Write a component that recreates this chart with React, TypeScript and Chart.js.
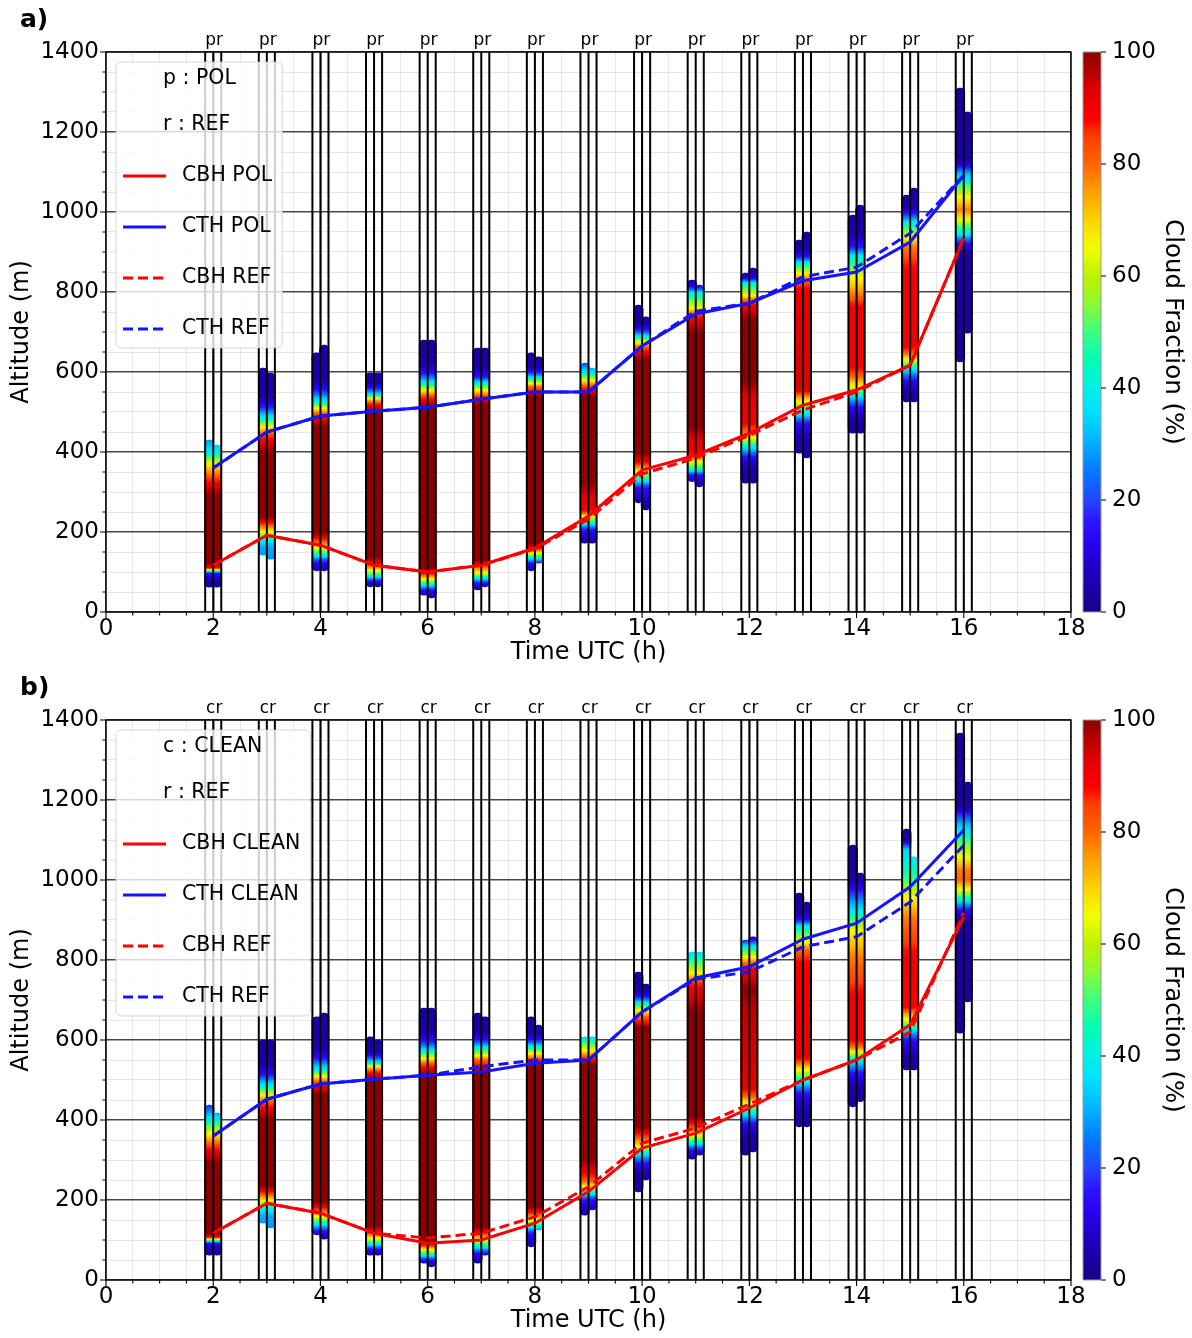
import React, { useEffect, useRef } from 'react';
import { Chart, registerables } from 'chart.js';

Chart.register(...registerables);

// ---- shared axes -------------------------------------------------------
const HOURS = [2, 3, 4, 5, 6, 7, 8, 9, 10, 11, 12, 13, 14, 15, 16];
const X_MIN = 0;
const X_MAX = 18;
const Y_MIN = 0;
const Y_MAX = 1400;
const CF_TICKS = [0, 20, 40, 60, 80, 100];

// ---- panel a : POL vs REF ---------------------------------------------
const A_CBH_POL = [117, 192, 167, 117, 100, 117, 160, 240, 355, 392, 447, 517, 555, 617, 935];
const A_CTH_POL = [360, 450, 490, 502, 512, 532, 550, 550, 665, 745, 772, 828, 850, 925, 1092];
const A_CBH_REF = [117, 192, 167, 117, 100, 117, 158, 232, 345, 385, 442, 505, 550, 617, 935];
const A_CTH_REF = [360, 450, 490, 502, 512, 532, 550, 550, 665, 752, 772, 838, 862, 947, 1092];

const A_P_BASE = [62, 142, 103, 63, 42, 55, 103, 172, 273, 326, 322, 397, 447, 525, 625];
const A_P_TOP = [430, 610, 648, 598, 680, 660, 648, 622, 767, 830, 847, 930, 992, 1042, 1310];
const A_R_BASE = [62, 132, 103, 63, 35, 63, 122, 172, 255, 313, 322, 385, 447, 525, 697];
const A_R_TOP = [417, 597, 667, 598, 680, 660, 638, 610, 738, 817, 860, 950, 1017, 1060, 1250];

// cloud fraction (%) profiles: [altitude m, fraction %], bottom to top
const A_CF_PROFILES: [number, number][][] = [
  [[62, 3], [75, 5], [97, 15], [110, 90], [122, 100], [290, 100], [322, 90], [347, 78], [372, 65], [397, 40], [430, 28]],
  [[132, 28], [163, 30], [180, 40], [200, 65], [213, 78], [225, 90], [238, 100], [397, 100], [430, 90], [447, 80], [463, 65], [480, 45], [497, 30], [513, 15], [538, 5], [610, 3]],
  [[103, 4], [125, 15], [142, 40], [160, 65], [172, 78], [185, 90], [198, 100], [463, 100], [485, 90], [497, 80], [510, 65], [525, 40], [538, 30], [555, 15], [580, 5], [667, 3]],
  [[63, 4], [77, 15], [90, 40], [103, 65], [113, 78], [122, 90], [138, 100], [500, 100], [517, 90], [525, 80], [535, 65], [542, 40], [560, 15], [572, 5], [598, 3]],
  [[35, 4], [55, 15], [68, 40], [82, 65], [97, 90], [110, 100], [513, 100], [530, 90], [542, 80], [555, 65], [572, 40], [597, 15], [622, 5], [680, 3]],
  [[55, 4], [72, 15], [85, 40], [97, 65], [110, 78], [118, 90], [130, 100], [517, 100], [535, 90], [542, 80], [555, 65], [572, 40], [588, 15], [613, 5], [660, 3]],
  [[103, 4], [122, 15], [135, 40], [147, 65], [160, 90], [172, 100], [538, 100], [550, 90], [563, 80], [572, 65], [585, 40], [600, 15], [613, 5], [648, 3]],
  [[172, 4], [205, 15], [222, 40], [238, 65], [247, 80], [255, 90], [288, 92], [322, 100], [538, 100], [555, 90], [567, 80], [580, 65], [597, 40], [622, 20]],
  [[255, 4], [273, 5], [310, 15], [330, 40], [350, 65], [363, 78], [375, 90], [397, 100], [630, 100], [650, 90], [663, 80], [675, 65], [688, 40], [705, 15], [722, 5], [767, 3]],
  [[313, 4], [342, 15], [355, 40], [375, 65], [385, 78], [397, 90], [422, 90], [463, 100], [697, 100], [735, 90], [747, 80], [760, 65], [797, 40], [812, 15], [830, 5]],
  [[322, 4], [360, 5], [388, 15], [413, 40], [435, 65], [450, 80], [472, 90], [538, 92], [580, 100], [730, 100], [767, 90], [780, 80], [792, 65], [822, 40], [835, 10], [860, 4]],
  [[385, 4], [430, 5], [472, 15], [497, 40], [525, 65], [542, 80], [555, 93], [797, 92], [830, 80], [847, 65], [872, 40], [888, 15], [905, 5], [950, 3]],
  [[447, 4], [480, 5], [513, 15], [542, 40], [563, 65], [588, 80], [613, 90], [763, 90], [788, 80], [838, 65], [888, 40], [913, 15], [947, 5], [1017, 3]],
  [[525, 4], [555, 5], [580, 15], [610, 40], [630, 65], [647, 80], [663, 90], [847, 90], [880, 85], [913, 78], [938, 65], [972, 40], [997, 15], [1013, 5], [1060, 3]],
  [[625, 3], [897, 5], [922, 15], [947, 40], [963, 50], [980, 65], [1005, 78], [1038, 65], [1063, 52], [1080, 40], [1097, 30], [1113, 15], [1130, 5], [1310, 3]],
];

// ---- panel b : CLEAN vs REF -------------------------------------------
const B_CBH_CLEAN = [117, 192, 167, 117, 92, 100, 142, 221, 330, 367, 430, 500, 550, 638, 908];
const B_CTH_CLEAN = [360, 452, 490, 502, 512, 520, 542, 550, 670, 755, 783, 852, 892, 983, 1125];
const B_CBH_REF = [117, 192, 167, 117, 105, 117, 158, 233, 342, 380, 440, 500, 550, 620, 918];
const B_CTH_REF = [360, 452, 490, 502, 512, 533, 550, 550, 670, 752, 770, 833, 858, 945, 1087];

const B_C_BASE = [62, 142, 113, 62, 42, 42, 83, 162, 220, 302, 312, 383, 433, 525, 617];
const B_C_TOP = [437, 600, 658, 608, 680, 667, 658, 608, 770, 820, 850, 967, 1087, 1127, 1367];
const B_R_BASE = [62, 130, 102, 62, 33, 62, 125, 175, 250, 312, 320, 383, 446, 525, 695];
const B_R_TOP = [417, 600, 667, 600, 680, 658, 637, 608, 740, 820, 858, 945, 1017, 1058, 1245];

const B_CF_PROFILES: [number, number][][] = [
  [[62, 3], [75, 5], [92, 15], [107, 90], [117, 100], [292, 100], [325, 90], [346, 78], [367, 65], [400, 40], [437, 18]],
  [[130, 28], [160, 30], [178, 40], [198, 65], [210, 78], [222, 90], [235, 100], [400, 100], [430, 90], [447, 80], [463, 65], [480, 45], [497, 30], [513, 15], [538, 5], [600, 3]],
  [[102, 4], [122, 15], [140, 40], [158, 65], [170, 78], [182, 90], [195, 100], [463, 100], [485, 90], [497, 80], [510, 65], [525, 40], [538, 30], [555, 15], [580, 5], [667, 3]],
  [[62, 4], [77, 15], [90, 40], [103, 65], [113, 78], [122, 90], [135, 100], [500, 100], [517, 90], [525, 80], [535, 65], [542, 40], [560, 15], [572, 5], [608, 3]],
  [[33, 4], [50, 15], [62, 40], [75, 65], [88, 90], [100, 100], [513, 100], [530, 90], [542, 80], [555, 65], [572, 40], [597, 15], [622, 5], [680, 3]],
  [[42, 4], [67, 15], [83, 40], [100, 65], [120, 90], [133, 100], [520, 100], [535, 90], [550, 80], [562, 65], [580, 40], [600, 15], [617, 5], [667, 3]],
  [[83, 4], [117, 15], [133, 40], [150, 65], [170, 90], [183, 100], [533, 100], [546, 90], [555, 80], [567, 65], [583, 40], [600, 15], [617, 5], [658, 3]],
  [[162, 4], [200, 15], [217, 40], [233, 65], [246, 80], [267, 90], [300, 100], [540, 100], [550, 90], [560, 80], [575, 65], [608, 35]],
  [[220, 4], [267, 5], [292, 15], [317, 40], [333, 65], [350, 78], [367, 90], [383, 100], [633, 100], [642, 90], [658, 80], [675, 65], [692, 40], [708, 15], [725, 5], [770, 3]],
  [[302, 4], [325, 15], [342, 40], [362, 65], [375, 78], [392, 90], [408, 100], [667, 100], [733, 90], [750, 80], [767, 65], [820, 35]],
  [[312, 4], [360, 5], [392, 15], [417, 40], [442, 65], [458, 80], [483, 92], [680, 96], [725, 100], [775, 90], [792, 80], [808, 65], [833, 40], [850, 15], [858, 10]],
  [[383, 4], [420, 5], [467, 15], [496, 40], [525, 65], [542, 80], [558, 92], [792, 90], [825, 80], [845, 65], [883, 40], [900, 15], [917, 5], [967, 3]],
  [[433, 4], [480, 5], [517, 15], [550, 40], [570, 65], [583, 80], [600, 90], [708, 90], [742, 85], [808, 78], [875, 65], [917, 40], [942, 30], [975, 15], [1000, 5], [1087, 3]],
  [[525, 4], [560, 5], [600, 15], [629, 40], [650, 65], [665, 75], [680, 88], [808, 90], [842, 85], [908, 78], [958, 65], [1000, 50], [1042, 40], [1075, 35], [1100, 5], [1127, 3]],
  [[617, 3], [900, 5], [925, 15], [950, 40], [975, 65], [1000, 80], [1025, 78], [1058, 65], [1092, 52], [1117, 40], [1142, 30], [1167, 15], [1183, 5], [1367, 3]],
];

// ---- styling -------------------------------------------------------------
const FONT = '"DejaVu Sans", Verdana, sans-serif';
const W = 1192;
const H = 669;
const COL_OFF = 0.07;            // offset of each column from the full hour
const MARK_OFF = [-0.15, 0, 0.15]; // black guide lines around each hour

// colour scale for cloud fraction: [value %, r, g, b]
const CMAP: [number, number, number, number][] = [
  [0, 22, 0, 135], [6, 28, 0, 180], [12, 40, 0, 240], [16, 42, 20, 255], [20, 35, 70, 255],
  [26, 0, 130, 255], [31, 0, 185, 255], [36, 0, 225, 255], [40, 0, 240, 230], [45, 0, 255, 180],
  [50, 60, 255, 130], [55, 140, 250, 50], [60, 190, 242, 0], [65, 240, 255, 0], [70, 255, 210, 0],
  [75, 255, 160, 0], [80, 255, 100, 0], [85, 255, 60, 0], [88, 255, 0, 0], [93, 225, 0, 0],
  [100, 140, 0, 0],
];

function cmap(v: number): string {
  const c = Math.max(0, Math.min(100, v));
  for (let i = 1; i < CMAP.length; i++) {
    const a = CMAP[i - 1];
    const b = CMAP[i];
    if (c <= b[0]) {
      const t = (c - a[0]) / (b[0] - a[0]);
      const r = Math.round(a[1] + (b[1] - a[1]) * t);
      const g = Math.round(a[2] + (b[2] - a[2]) * t);
      const bl = Math.round(a[3] + (b[3] - a[3]) * t);
      return `rgb(${r},${g},${bl})`;
    }
  }
  const l = CMAP[CMAP.length - 1];
  return `rgb(${l[1]},${l[2]},${l[3]})`;
}

interface PanelDef {
  tag: string;
  pairLabel: string;
  keyLines: string[];
  names: string[];
  series: number[][];
  leftBase: number[];
  leftTop: number[];
  rightBase: number[];
  rightTop: number[];
  profiles: [number, number][][];
  plotTop: number;
  plotBottom: number;
}

const PANEL_A: PanelDef = {
  tag: 'a)',
  pairLabel: 'pr',
  keyLines: ['p : POL', 'r : REF'],
  names: ['CBH POL', 'CTH POL', 'CBH REF', 'CTH REF'],
  series: [A_CBH_POL, A_CTH_POL, A_CBH_REF, A_CTH_REF],
  leftBase: A_P_BASE,
  leftTop: A_P_TOP,
  rightBase: A_R_BASE,
  rightTop: A_R_TOP,
  profiles: A_CF_PROFILES,
  plotTop: 52,
  plotBottom: 612,
};

const PANEL_B: PanelDef = {
  tag: 'b)',
  pairLabel: 'cr',
  keyLines: ['c : CLEAN', 'r : REF'],
  names: ['CBH CLEAN', 'CTH CLEAN', 'CBH REF', 'CTH REF'],
  series: [B_CBH_CLEAN, B_CTH_CLEAN, B_CBH_REF, B_CTH_REF],
  leftBase: B_C_BASE,
  leftTop: B_C_TOP,
  rightBase: B_R_BASE,
  rightTop: B_R_TOP,
  profiles: B_CF_PROFILES,
  plotTop: 51,
  plotBottom: 611,
};

const LINE_STYLES = [
  { color: '#ff0000', dash: [] as number[] },
  { color: '#1414ff', dash: [] as number[] },
  { color: '#ff0000', dash: [10, 5] },
  { color: '#1414ff', dash: [10, 5] },
];

function Panel({ def }: { def: PanelDef }) {
  const ref = useRef<HTMLCanvasElement>(null);

  useEffect(() => {
    const canvas = ref.current;
    if (!canvas) return;

    const gradCache = new Map<string, CanvasGradient>();
    const columnFill = (ctx: any) => {
      const chart = ctx.chart;
      if (!chart.chartArea) return 'rgba(0,0,0,0)';
      const prof = def.profiles[ctx.dataIndex];
      if (!prof) return 'rgba(0,0,0,0)';
      const ys = chart.scales.y;
      const key = `${ctx.dataIndex}:${ys.top}:${ys.bottom}`;
      const hit = gradCache.get(key);
      if (hit) return hit;
      const a0 = prof[0][0];
      const aN = prof[prof.length - 1][0];
      const g = chart.ctx.createLinearGradient(0, ys.getPixelForValue(a0), 0, ys.getPixelForValue(aN));
      const span = aN - a0;
      for (let i = 1; i < prof.length; i++) {
        const [alt0, c0] = prof[i - 1];
        const [alt1, c1] = prof[i];
        const steps = Math.max(1, Math.ceil(Math.abs(c1 - c0) / 4));
        for (let k = 0; k <= steps; k++) {
          const t = k / steps;
          const off = (alt0 + (alt1 - alt0) * t - a0) / span;
          g.addColorStop(Math.max(0, Math.min(1, off)), cmap(c0 + (c1 - c0) * t));
        }
      }
      gradCache.set(key, g);
      return g;
    };

    const guidePoints = HOURS.flatMap((h) =>
      MARK_OFF.flatMap((o) => [
        { x: h + o, y: Y_MIN },
        { x: h + o, y: Y_MAX },
        { x: h + o, y: null },
      ])
    );

    const lineSets = def.series.map((vals, i) => ({
      type: 'line' as const,
      label: def.names[i],
      data: HOURS.map((h, j) => ({ x: h, y: vals[j] })),
      borderColor: LINE_STYLES[i].color,
      borderDash: LINE_STYLES[i].dash,
      borderWidth: 3,
      pointRadius: 0,
      tension: 0,
      order: i < 2 ? 0 : 1,
    }));

    const overlay = {
      id: 'overlay',
      afterDatasetsDraw(chart: any) {
        const { ctx, chartArea: ca, scales } = chart;
        const xs = scales.x;
        const ys = scales.y;
        ctx.save();

        // axes frame
        ctx.strokeStyle = '#000';
        ctx.lineWidth = 1.3;
        ctx.strokeRect(ca.left, ca.top, ca.right - ca.left, ca.bottom - ca.top);

        // tick marks (major long, minor short)
        ctx.lineWidth = 1.1;
        ctx.beginPath();
        for (let v = X_MIN; v <= X_MAX + 1e-9; v += 0.5) {
          const px = xs.getPixelForValue(v);
          const len = v % 2 === 0 ? 6 : 3.5;
          ctx.moveTo(px, ca.bottom);
          ctx.lineTo(px, ca.bottom + len);
        }
        for (let v = Y_MIN; v <= Y_MAX; v += 50) {
          const py = ys.getPixelForValue(v);
          const len = v % 200 === 0 ? 6 : 3.5;
          ctx.moveTo(ca.left, py);
          ctx.lineTo(ca.left - len, py);
        }
        ctx.stroke();

        // column pair labels above the axes
        ctx.fillStyle = '#000';
        ctx.font = `17px ${FONT}`;
        ctx.textAlign = 'center';
        ctx.textBaseline = 'alphabetic';
        HOURS.forEach((h) => {
          ctx.fillText(def.pairLabel, xs.getPixelForValue(h) + 1, ca.top - 7);
        });

        // legend
        ctx.font = `20.5px ${FONT}`;
        const textX = 182;
        const maxW = Math.max(...def.names.map((n) => ctx.measureText(n).width));
        const bx = 116;
        const by = ca.top + 10;
        const bw = textX + maxW + 10 - bx;
        const bh = 286;
        ctx.beginPath();
        ctx.roundRect(bx, by, bw, bh, 5);
        ctx.fillStyle = 'rgba(255,255,255,0.8)';
        ctx.fill();
        ctx.strokeStyle = 'rgba(204,204,204,0.8)';
        ctx.lineWidth = 1;
        ctx.stroke();
        ctx.fillStyle = '#000';
        ctx.textAlign = 'left';
        ctx.textBaseline = 'middle';
        const rowY = [27, 73, 124, 175, 226, 277].map((d) => ca.top + d);
        def.keyLines.forEach((t, i) => ctx.fillText(t, 163, rowY[i]));
        def.names.forEach((n, i) => {
          const y = rowY[i + 2];
          ctx.save();
          ctx.strokeStyle = LINE_STYLES[i].color;
          ctx.lineWidth = 3;
          ctx.setLineDash(LINE_STYLES[i].dash);
          ctx.beginPath();
          ctx.moveTo(123, y);
          ctx.lineTo(166, y);
          ctx.stroke();
          ctx.restore();
          ctx.fillText(n, textX, y);
        });

        // colour bar
        const cbL = 1083;
        const cbW = 18;
        const cbTop = ca.top;
        const cbBot = ca.bottom;
        const cg = ctx.createLinearGradient(0, cbBot, 0, cbTop);
        for (let v = 0; v <= 100; v += 1) cg.addColorStop(v / 100, cmap(v));
        ctx.fillStyle = cg;
        ctx.fillRect(cbL, cbTop, cbW, cbBot - cbTop);
        ctx.strokeStyle = '#9a9a9a';
        ctx.lineWidth = 1;
        ctx.strokeRect(cbL, cbTop, cbW, cbBot - cbTop);
        ctx.strokeStyle = '#000';
        ctx.fillStyle = '#000';
        ctx.font = `23px ${FONT}`;
        ctx.textAlign = 'left';
        ctx.textBaseline = 'middle';
        CF_TICKS.forEach((t) => {
          const y = cbBot - ((cbBot - cbTop) * t) / 100;
          ctx.beginPath();
          ctx.moveTo(cbL + cbW, y);
          ctx.lineTo(cbL + cbW + 5, y);
          ctx.stroke();
          ctx.fillText(String(t), cbL + cbW + 11, y);
        });

        // titles
        ctx.font = `24.5px ${FONT}`;
        ctx.save();
        ctx.translate(1172, (cbTop + cbBot) / 2);
        ctx.rotate(Math.PI / 2);
        ctx.textAlign = 'center';
        ctx.fillText('Cloud Fraction (%)', 0, 0);
        ctx.restore();

        ctx.font = `24px ${FONT}`;
        ctx.save();
        ctx.translate(22, (ca.top + ca.bottom) / 2);
        ctx.rotate(-Math.PI / 2);
        ctx.textAlign = 'center';
        ctx.fillText('Altitude (m)', 0, 0);
        ctx.restore();

        ctx.textAlign = 'center';
        ctx.fillText('Time UTC (h)', (ca.left + ca.right) / 2, ca.bottom + 41);

        ctx.font = `bold 25px ${FONT}`;
        ctx.textAlign = 'left';
        ctx.fillText(def.tag, 20, ca.top - 32);

        ctx.restore();
      },
    };

    const majorGrid = 'rgba(0,0,0,0.72)';
    const minorGrid = 'rgba(0,0,0,0.09)';

    const chart = new Chart(canvas, {
      type: 'bar',
      data: {
        datasets: [
          ...lineSets,
          {
            type: 'line' as const,
            label: 'guides',
            data: guidePoints as any,
            borderColor: '#000',
            borderWidth: 2,
            pointRadius: 0,
            spanGaps: false,
            order: 2,
          },
          {
            type: 'bar' as const,
            label: def.pairLabel[0],
            data: HOURS.map((h, i) => ({ x: h - COL_OFF, y: [def.leftBase[i], def.leftTop[i]] })) as any,
            backgroundColor: columnFill,
            barThickness: 9.5,
            borderRadius: 4.75,
            borderSkipped: false,
            borderWidth: 0,
            grouped: false,
            order: 4,
          },
          {
            type: 'bar' as const,
            label: def.pairLabel[1],
            data: HOURS.map((h, i) => ({ x: h + COL_OFF, y: [def.rightBase[i], def.rightTop[i]] })) as any,
            backgroundColor: columnFill,
            barThickness: 9.5,
            borderRadius: 4.75,
            borderSkipped: false,
            borderWidth: 0,
            grouped: false,
            order: 3,
          },
        ] as any,
      },
      options: {
        responsive: false,
        animation: false,
        events: [],
        layout: { padding: { left: 0, right: W - 1071, top: def.plotTop, bottom: 0 } },
        plugins: { legend: { display: false }, tooltip: { enabled: false }, title: { display: false } },
        scales: {
          x: {
            type: 'linear',
            min: X_MIN,
            max: X_MAX,
            offset: false,
            afterFit: (s: any) => { s.height = H - def.plotBottom; },
            grid: {
              offset: false,
              drawTicks: false,
              color: (c: any) => (c.tick && c.tick.value % 2 === 0 ? majorGrid : minorGrid),
              lineWidth: (c: any) => (c.tick && c.tick.value % 2 === 0 ? 1.4 : 1),
            },
            border: { display: false },
            ticks: {
              stepSize: 0.5,
              maxTicksLimit: 100,
              autoSkip: false,
              maxRotation: 0,
              padding: 3,
              color: '#000',
              font: { family: FONT, size: 23 },
              callback: (v: any) => (Number(v) % 2 === 0 ? String(v) : ''),
            },
          },
          y: {
            type: 'linear',
            min: Y_MIN,
            max: Y_MAX,
            afterFit: (s: any) => { s.width = 106; },
            grid: {
              drawTicks: false,
              color: (c: any) => (c.tick && c.tick.value % 200 === 0 ? majorGrid : minorGrid),
              lineWidth: (c: any) => (c.tick && c.tick.value % 200 === 0 ? 1.4 : 1),
            },
            border: { display: false },
            ticks: {
              stepSize: 50,
              maxTicksLimit: 100,
              autoSkip: false,
              padding: 7,
              color: '#000',
              font: { family: FONT, size: 23 },
              callback: (v: any) => (Number(v) % 200 === 0 ? String(v) : ''),
            },
          },
        },
      } as any,
      plugins: [overlay],
    });

    return () => chart.destroy();
  }, [def]);

  return <canvas ref={ref} width={W} height={H} style={{ display: 'block', width: W, height: H }} />;
}

export default function App() {
  return (
    <div style={{ position: 'absolute', left: 0, top: 0, width: W, height: 2 * H, background: '#fff' }}>
      <Panel def={PANEL_A} />
      <Panel def={PANEL_B} />
    </div>
  );
}
